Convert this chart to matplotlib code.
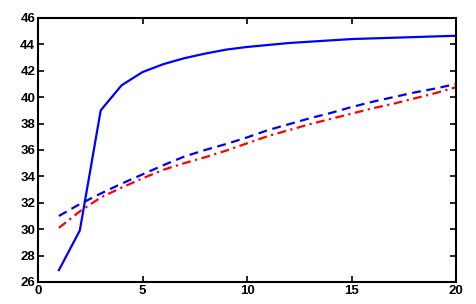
import numpy as np
import matplotlib.pyplot as plt

# data
x = np.arange(1, 21)
solid = [26.9, 29.9, 39.0, 40.9, 41.9, 42.5, 42.95, 43.3, 43.6, 43.8,
         43.95, 44.1, 44.2, 44.3, 44.4, 44.45, 44.5, 44.55, 44.6, 44.65]
dashed = [31.0, 31.9, 32.7, 33.45, 34.15, 34.85, 35.5, 36.0, 36.45, 36.95,
          37.5, 37.95, 38.4, 38.8, 39.25, 39.65, 40.0, 40.35, 40.65, 41.0]
dashdot = [30.1, 31.35, 32.4, 33.15, 33.85, 34.5, 35.0, 35.45, 35.95, 36.5,
           37.05, 37.5, 37.95, 38.35, 38.75, 39.15, 39.5, 39.9, 40.3, 40.75]

xticks = [0, 5, 10, 15, 20]
yticks = list(range(26, 47, 2))

plt.rcParams['font.family'] = ['Liberation Sans', 'DejaVu Sans']

fig = plt.figure(figsize=(4.77, 3.04), dpi=100)
ax = fig.add_axes([0.0797, 0.0724, 0.8763, 0.8686])

ax.plot(x, solid, color='#0000ff', lw=1.6, linestyle='-')
ax.plot(x, dashed, color='#0000ff', lw=1.6, linestyle=(0, (4, 2.5)))
ax.plot(x, dashdot, color='#ff0000', lw=1.6, linestyle=(0, (4, 2, 1, 2)))

ax.set_xlim(0, 20)
ax.set_ylim(26, 46)
ax.set_xticks(xticks)
ax.set_yticks(yticks)
ax.tick_params(direction='in', top=True, right=True, length=4, width=1.2,
               labelsize=9.5, pad=2)
for lab in ax.get_xticklabels() + ax.get_yticklabels():
    lab.set_fontweight('bold')
for sp in ax.spines.values():
    sp.set_linewidth(1.5)

fig.savefig('out.png', dpi=100)
